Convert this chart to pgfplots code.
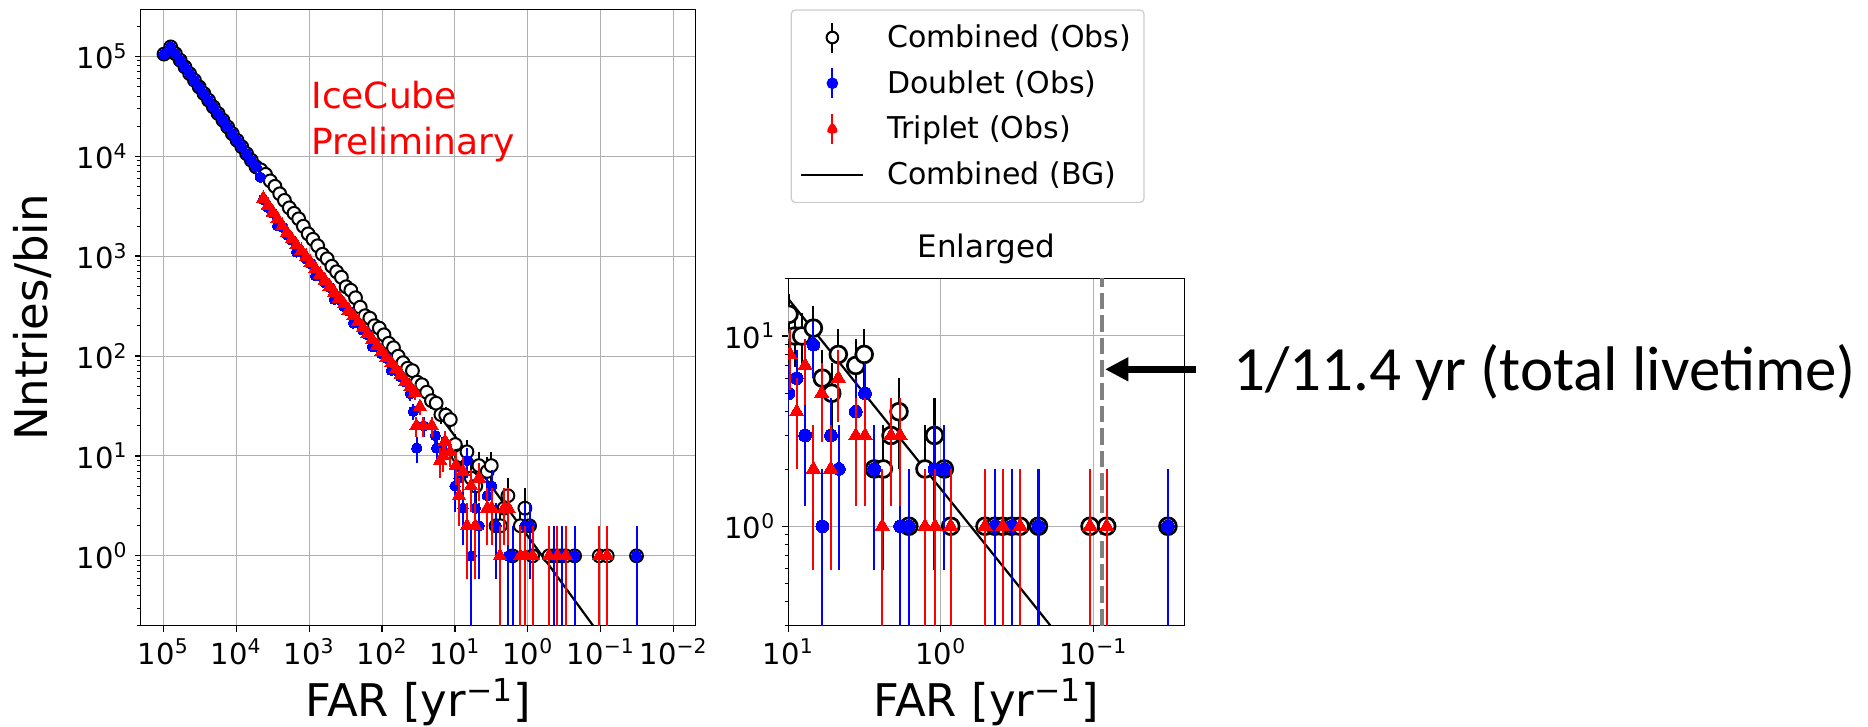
\documentclass[border=0pt]{standalone}
\usepackage{fontspec}
\setmainfont{DejaVu Sans}
\newfontfamily\calibri{Carlito}
\usepackage{pgfplots}
\usepackage{pgfplotstable}
\pgfplotsset{compat=1.18}
\usetikzlibrary{arrows.meta}

\definecolor{gridc}{HTML}{B0B0B0}
\definecolor{legc}{HTML}{CCCCCC}
\newcommand{\ticksize}{\fontsize{14.5}{16}\selectfont}
\newcommand{\labsize}{\fontsize{22.5}{26}\selectfont}

% combined (obs): FAR, entries, error up, error down
\pgfplotstableread{
x y ep em
9.77e4 1.05e5 324 324
7.91e4 1.24e5 352 352
6.81e4 1.06e5 326 326
5.86e4 9.12e4 302 302
5.05e4 7.82e4 280 280
4.35e4 6.70e4 259 259
3.74e4 5.75e4 240 240
3.22e4 4.93e4 222 222
2.77e4 4.23e4 206 206
2.39e4 3.63e4 191 191
2.06e4 3.11e4 176 176
1.77e4 2.67e4 163 163
1.52e4 2.29e4 151 151
1.31e4 1.96e4 140 140
1.13e4 1.68e4 130 130
9.73e3 1.44e4 120 120
8.38e3 1.24e4 111 111
7.21e3 1.06e4 103 103
6.21e3 9.10e3 95 95
5.35e3 7.82e3 88 88
4.60e3 7.30e3 85 85
3.96e3 6.58e3 81 81
3.41e3 5.66e3 75 75
2.94e3 4.99e3 71 71
2.53e3 4.20e3 65 65
2.18e3 3.61e3 60 60
1.87e3 3.04e3 55 55
1.61e3 2.68e3 52 52
1.39e3 2.36e3 49 49
1.20e3 1.99e3 45 45
1.03e3 1.67e3 41 41
887 1472 38 38
764 1268 36 36
658 1042 32 32
566 940 31 31
488 791 28 28
420 697 26 26
361 614 25 25
311 493 22 22
268 455 21 21
231 383 20 20
199 308 18 18
171 253 16 16
147 239 15.5 15.5
127 201 14.2 14.2
109 190 13.8 13.8
94.0 163 12.8 12.8
80.9 134 11.6 11.6
69.7 121 11 11
60.0 99.5 10 10
51.6 85.7 9.3 9.3
44.5 75.5 8.7 8.7
38.3 71.3 8.4 8.4
33.0 54.7 7.4 7.4
28.4 51.6 7.2 7.2
24.4 43.4 6.6 6.6
21.0 35.7 6.0 6.0
18.1 33.7 5.8 5.8
15.6 25.9 5.1 5.1
13.4 25.6 5.1 5.1
11.6 23.1 4.8 4.8
9.9 13 3.61 3.61
9.04 10 3.16 3.16
8.17 10 3.16 3.16
6.85 11 3.32 3.32
5.98 6 2.45 2.45
5.19 5 2.24 2.24
4.70 8 2.83 2.83
3.61 7 2.65 2.65
3.18 8 2.83 2.83
2.73 2 1.41 1.41
2.38 2 1.41 1.41
2.12 3 1.73 1.73
1.88 4 2 2
1.62 1 1 0.99
1.27 2 1.41 1.41
1.10 3 1.73 1.73
0.948 2 1.41 1.41
0.861 1 1 0.99
0.513 1 1 0.99
0.442 1 1 0.99
0.393 1 1 0.99
0.343 1 1 0.99
0.302 1 1 0.99
0.229 1 1 0.99
0.105 1 1 0.99
0.0817 1 1 0.99
0.0324 1 1 0.99
}\combtab

% doublet (obs)
\pgfplotstableread{
x y ep em
9.77e4 1.05e5 324 324
7.91e4 1.24e5 352 352
6.81e4 1.06e5 326 326
5.86e4 9.12e4 302 302
5.05e4 7.82e4 280 280
4.35e4 6.70e4 259 259
3.74e4 5.75e4 240 240
3.22e4 4.93e4 222 222
2.77e4 4.23e4 206 206
2.39e4 3.63e4 191 191
2.06e4 3.11e4 176 176
1.77e4 2.67e4 163 163
1.52e4 2.29e4 151 151
1.31e4 1.96e4 140 140
1.13e4 1.68e4 130 130
9.73e3 1.44e4 120 120
8.38e3 1.24e4 111 111
7.21e3 1.06e4 103 103
6.21e3 9.10e3 95 95
5.35e3 7.82e3 88 88
4.68e3 6.17e3 79 79
4.25e3 3.67e3 61 61
3.66e3 3.07e3 55 55
3.15e3 2.70e3 52 52
2.71e3 2.01e3 45 45
2.33e3 1.95e3 44 44
2.01e3 1.63e3 40 40
1.73e3 1.45e3 38 38
1.49e3 1.10e3 33 33
1.28e3 1.10e3 33 33
1.10e3 935 31 31
951 842 29 29
818 636 25 25
705 633 25 25
607 542 23 23
522 488 22 22
450 370 19 19
387 368 19 19
333 314 18 18
287 282 17 17
247 214 14.6 14.6
213 213 14.6 14.6
183 182 13.5 13.5
158 164 12.8 12.8
136 124 11.1 11.1
117 124 11.1 11.1
101 105 10.2 10.2
86.7 95 9.7 9.7
74.6 72 8.5 8.5
64.3 72 8.5 8.5
55.3 62 7.9 7.9
47.6 55 7.4 7.4
41.0 42 6.5 6.5
37.2 28 5.3 5.3
33.4 12 3.46 3.46
26.9 20 4.47 4.47
18.6 16 4 4
17.8 12 3.46 3.46
15.2 12 3.46 3.46
10.0 5 2.24 2.24
8.81 6 2.45 2.45
7.76 3 1.73 1.73
6.85 9 3 3
5.98 1 1 0.99
5.25 3 1.73 1.73
4.66 2 1.41 1.41
3.61 4 2 2
3.14 5 2.24 2.24
2.73 2 1.41 1.41
1.85 1 1 0.99
1.62 1 1 0.99
1.10 2 1.41 1.41
0.948 2 1.41 1.41
0.442 1 1 0.99
0.343 1 1 0.99
0.229 1 1 0.99
0.0324 1 1 0.99
}\doubtab

% triplet (obs)
\pgfplotstableread{
x y ep em
4.25e3 3.78e3 61 61
3.66e3 3.23e3 57 57
3.15e3 2.75e3 52 52
2.71e3 2.36e3 49 49
2.33e3 2.01e3 45 45
2.01e3 1.72e3 41 41
1.73e3 1.48e3 38 38
1.49e3 1.29e3 36 36
1.28e3 1.13e3 34 34
1.10e3 984 31 31
951 859 29 29
818 748 27 27
705 653 26 26
607 570 24 24
522 498 22 22
450 435 21 21
387 379 19 19
333 331 18 18
287 288 17 17
247 252 16 16
213 220 15 15
183 192 14 14
158 167 13 13
136 146 12 12
117 128 11.3 11.3
101 111 10.5 10.5
86.7 97 9.8 9.8
74.6 85 9.2 9.2
64.3 74 8.6 8.6
55.3 65 8.1 8.1
47.6 56 7.5 7.5
41.0 49 7 7
35.3 43 6.6 6.6
33.9 20 4.47 4.47
30.2 31 5.57 5.57
27.1 20 4.47 4.47
20.8 20 4.47 4.47
16.0 9 3 3
14.4 10 3.16 3.16
13.7 14 3.74 3.74
11.7 11 3.32 3.32
9.75 8 2.83 2.83
8.81 4 2 2
7.76 7 2.65 2.65
6.85 2 1.41 1.41
6.04 5 2.24 2.24
5.27 2 1.41 1.41
4.70 6 2.45 2.45
3.61 3 1.73 1.73
3.14 3 1.73 1.73
2.42 1 1 0.99
2.12 3 1.73 1.73
1.85 3 1.73 1.73
1.27 1 1 0.99
1.09 1 1 0.99
0.861 1 1 0.99
0.513 1 1 0.99
0.393 1 1 0.99
0.302 1 1 0.99
0.105 1 1 0.99
0.0817 1 1 0.99
}\triptab

\pgfplotsset{
  cmbst/.style={forget plot, only marks, mark=*, mark size=3.2pt,
    mark options={draw=black, fill=white, line width=1pt},
    error bars/y dir=both, error bars/y explicit,
    error bars/error mark=none,
    error bars/error bar style={black, line width=1pt}},
  dblst/.style={forget plot, only marks, mark=*, mark size=2.6pt,
    mark options={draw=blue, fill=blue, line width=0pt},
    error bars/y dir=both, error bars/y explicit,
    error bars/error mark=none,
    error bars/error bar style={blue, line width=1pt}},
  trpst/.style={forget plot, only marks, mark=triangle*, mark size=3.9pt,
    mark options={draw=red, fill=red, line width=0pt},
    error bars/y dir=both, error bars/y explicit,
    error bars/error mark=none,
    error bars/error bar style={red, line width=1pt}},
  bgst/.style={forget plot, black, line width=1.1pt, no marks},
}

\begin{document}
\begin{tikzpicture}

% full range panel
\begin{axis}[
  xmode=log, ymode=log, x dir=reverse, scale only axis,
  at={(70.35pt,-4.65pt)}, anchor=north west,
  width=277.5pt, height=308.2pt,
  xmin=0.005, xmax=2.04e5, ymin=0.2, ymax=2.95e5,
  axis line style={line width=0.6pt},
  tick align=outside, xtick pos=left, ytick pos=left,
  major tick length=3pt, minor tick length=1.8pt,
  major tick style={black, line width=0.6pt},
  minor tick style={black, line width=0.45pt},
  xminorticks=false,
  grid=major, major grid style={gridc, line width=0.5pt},
  tick label style={font=\ticksize},
  clip marker paths=true,
  xtick={1e5,1e4,1e3,100,10,1,0.1,0.01},
  xticklabels={10\textsuperscript{5},10\textsuperscript{4},10\textsuperscript{3},10\textsuperscript{2},10\textsuperscript{1},10\textsuperscript{0},10\textsuperscript{−1},10\textsuperscript{−2}},
  ytick={1,10,100,1000,1e4,1e5},
  yticklabels={10\textsuperscript{0},10\textsuperscript{1},10\textsuperscript{2},10\textsuperscript{3},10\textsuperscript{4},10\textsuperscript{5}},
  minor ytick={0.2,0.3,0.4,0.5,0.6,0.7,0.8,0.9,2,3,4,5,6,7,8,9,20,30,40,50,60,70,80,90,200,300,400,500,600,700,800,900,2000,3000,4000,5000,6000,7000,8000,9000,2e4,3e4,4e4,5e4,6e4,7e4,8e4,9e4,2e5},
  xlabel={FAR [yr\textsuperscript{−1}]},
  ylabel={Nntries/bin},
  xlabel style={font=\labsize, at={(axis description cs:0.5,-0.1476)}, anchor=base},
  ylabel style={font=\labsize, at={(axis description cs:-0.168,0.5)}, anchor=base},
]
\addplot[bgst] coordinates {(7.9e4,1.24e5) (0.1,0.157)};
\addplot[cmbst] table[x=x, y=y, y error plus=ep, y error minus=em] {\combtab};
\addplot[dblst] table[x=x, y=y, y error plus=ep, y error minus=em] {\doubtab};
\addplot[trpst] table[x=x, y=y, y error plus=ep, y error minus=em] {\triptab};
\end{axis}

% enlarged panel
\begin{axis}[
  xmode=log, ymode=log, x dir=reverse, scale only axis,
  at={(394.15pt,-139.15pt)}, anchor=north west,
  width=198pt, height=173.7pt,
  xmin=0.0253, xmax=10, ymin=0.3, ymax=20.1,
  axis line style={line width=0.6pt},
  tick align=outside, xtick pos=left, ytick pos=left,
  major tick length=3pt, minor tick length=1.8pt,
  major tick style={black, line width=0.6pt},
  minor tick style={black, line width=0.45pt},
  xminorticks=false,
  grid=major, major grid style={gridc, line width=0.5pt},
  tick label style={font=\ticksize},
  clip marker paths=true,
  xtick={10,1,0.1},
  xticklabels={10\textsuperscript{1},10\textsuperscript{0},10\textsuperscript{−1}},
  ytick={1,10},
  yticklabels={10\textsuperscript{0},10\textsuperscript{1}},
  minor ytick={0.3,0.4,0.5,0.6,0.7,0.8,0.9,2,3,4,5,6,7,8,9,20},
  title={Enlarged},
  title style={font=\fontsize{15.5}{18}\selectfont, at={(axis description cs:0.5,1)}, anchor=base, yshift=4.5pt},
  xlabel={FAR [yr\textsuperscript{−1}]},
  xlabel style={font=\labsize, at={(axis description cs:0.5,-0.262)}, anchor=base},
  legend cell align=left,
  legend style={at={(axis description cs:0.006,1.774)}, anchor=north west,
    draw=legc, line width=0.6pt, rounded corners=2pt, fill=white,
    font=\fontsize{15}{18}\selectfont,
    inner xsep=4.5pt, inner ysep=5.3pt, row sep=6pt,
    cells={anchor=west, inner sep=1pt}},
]
\addplot[bgst] coordinates {(12,18.8) (0.15,0.236)};
\addplot[forget plot, gray, line width=1.7pt, dash pattern=on 8.3pt off 3pt] coordinates {(0.0877,0.3) (0.0877,20.1)};
\addplot[cmbst, mark size=4.2pt, mark options={draw=black, fill=white, line width=1.35pt}, error bars/error bar style={black, line width=1.1pt}] table[x=x, y=y, y error plus=ep, y error minus=em] {\combtab};
\addplot[dblst, mark size=3.2pt, error bars/error bar style={blue, line width=1.1pt}] table[x=x, y=y, y error plus=ep, y error minus=em] {\doubtab};
\addplot[trpst, mark size=4.1pt, error bars/error bar style={red, line width=1.1pt}] table[x=x, y=y, y error plus=ep, y error minus=em] {\triptab};
\addlegendimage{legend image code/.code={
  \draw[black, line width=1pt] (15.5pt,-7.5pt) -- (15.5pt,7.5pt);
  \draw[black, fill=white, line width=1pt] (15.5pt,0pt) circle (2.9pt);
  \path[draw=none, fill=none] (0pt,-7.5pt) rectangle (41pt,7.5pt);}}
\addlegendentry{Combined (Obs)}
\addlegendimage{legend image code/.code={
  \draw[blue, line width=1pt] (15.5pt,-7.5pt) -- (15.5pt,7.5pt);
  \fill[blue] (15.5pt,0pt) circle (2.6pt);
  \path[draw=none, fill=none] (0pt,-7.5pt) rectangle (41pt,7.5pt);}}
\addlegendentry{Doublet (Obs)}
\addlegendimage{legend image code/.code={
  \draw[red, line width=1pt] (15.5pt,-7.5pt) -- (15.5pt,7.5pt);
  \fill[red] (15.5pt,3.6pt) -- (12.4pt,-1.8pt) -- (18.6pt,-1.8pt) -- cycle;
  \path[draw=none, fill=none] (0pt,-7.5pt) rectangle (41pt,7.5pt);}}
\addlegendentry{Triplet (Obs)}
\addlegendimage{legend image code/.code={
  \draw[black, line width=1.1pt] (0pt,0pt) -- (31pt,0pt);
  \path[draw=none, fill=none] (0pt,-7.5pt) rectangle (41pt,7.5pt);}}
\addlegendentry{Combined (BG)}
\end{axis}

\node[anchor=base west, inner sep=0pt, text=red, font=\fontsize{18}{22}\selectfont] at (155.5pt,-54.15pt) {IceCube};
\node[anchor=base west, inner sep=0pt, text=red, font=\fontsize{18}{22}\selectfont] at (155.5pt,-77.5pt) {Preliminary};

\draw[line width=3.6pt, -{Triangle[length=11.7pt,width=11.3pt]}] (598pt,-184.65pt) -- (552.5pt,-184.65pt);
\node[anchor=base west, inner sep=0pt, font=\calibri\fontsize{31.5}{36}\selectfont] at (616.5pt,-195pt) {1/11.4 yr (total livetime)};

\pgfresetboundingbox
\path[use as bounding box] (0pt,0pt) rectangle (934pt,-363.5pt);
\end{tikzpicture}
\end{document}
